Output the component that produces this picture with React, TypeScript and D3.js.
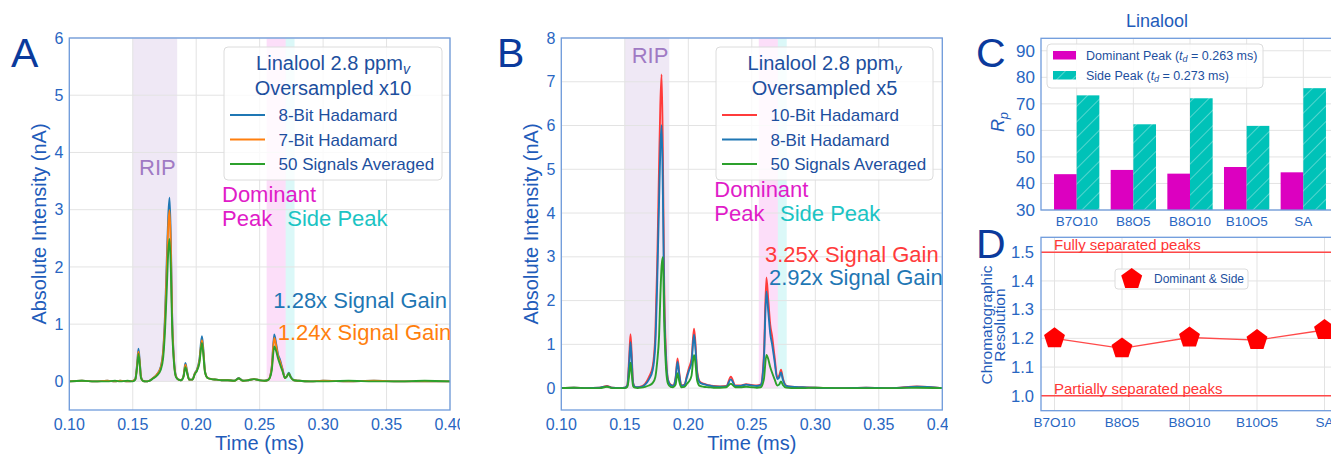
import React from 'react';
import * as d3 from 'd3';

// drift time axis shared by panels A and B (ms)
const TIME = [
  0.100, 0.110, 0.120, 0.130, 0.136, 0.140, 0.146, 0.150, 0.152, 0.1535,
  0.1545, 0.1555, 0.1565, 0.158, 0.160, 0.163, 0.166, 0.169, 0.172, 0.174,
  0.1755, 0.177, 0.178, 0.179, 0.180, 0.181, 0.1825, 0.184, 0.186, 0.188,
  0.190, 0.1915, 0.193, 0.1945, 0.197, 0.199, 0.2005, 0.2025, 0.2045, 0.2055,
  0.207, 0.209, 0.212, 0.216, 0.220, 0.225, 0.230, 0.2335, 0.237, 0.241,
  0.2455, 0.250, 0.254, 0.257, 0.2595, 0.2615, 0.263, 0.2645, 0.266, 0.268,
  0.270, 0.2715, 0.273, 0.2745, 0.277, 0.281, 0.290, 0.300, 0.320, 0.340,
  0.360, 0.380, 0.400,
];

// panel A (oversampled x10)
const A_BIT8 = [
  0.00, 0.01, 0.00, 0.01, 0.00, 0.01, 0.00, 0.01, 0.04, 0.32,
  0.57, 0.36, 0.08, 0.01, 0.00, 0.01, 0.06, 0.12, 0.25, 0.55,
  1.20, 2.25, 2.90, 3.21, 2.50, 1.20, 0.38, 0.10, 0.03, 0.02,
  0.10, 0.32, 0.16, 0.03, 0.03, 0.15, 0.20, 0.38, 0.79, 0.60,
  0.17, 0.06, 0.04, 0.03, 0.02, 0.02, 0.01, 0.06, 0.01, 0.02,
  0.04, 0.02, 0.01, 0.03, 0.25, 0.82, 0.66, 0.47, 0.38, 0.22,
  0.06, 0.09, 0.15, 0.08, 0.02, 0.01, 0.00, 0.01, 0.00, 0.01,
  0.00, 0.00, 0.00,
];
const A_BIT7 = [
  0.00, 0.01, 0.00, 0.01, 0.00, 0.01, 0.00, 0.01, 0.04, 0.29,
  0.52, 0.33, 0.07, 0.01, 0.00, 0.01, 0.06, 0.12, 0.24, 0.52,
  1.10, 2.08, 2.72, 2.99, 2.34, 1.12, 0.36, 0.09, 0.03, 0.02,
  0.09, 0.29, 0.14, 0.03, 0.03, 0.14, 0.19, 0.35, 0.72, 0.55,
  0.16, 0.06, 0.04, 0.03, 0.02, 0.02, 0.01, 0.05, 0.01, 0.02,
  0.04, 0.02, 0.01, 0.03, 0.23, 0.76, 0.62, 0.44, 0.35, 0.20,
  0.06, 0.09, 0.14, 0.07, 0.02, 0.01, 0.00, 0.01, 0.00, 0.01,
  0.00, 0.00, 0.00,
];
const A_AVG = [
  0.00, 0.01, 0.00, 0.00, 0.01, 0.00, 0.01, 0.00, 0.03, 0.26,
  0.48, 0.30, 0.06, 0.01, 0.00, 0.01, 0.05, 0.10, 0.20, 0.42,
  0.92, 1.72, 2.28, 2.49, 1.98, 0.98, 0.32, 0.08, 0.03, 0.02,
  0.08, 0.25, 0.13, 0.03, 0.03, 0.13, 0.18, 0.32, 0.67, 0.50,
  0.15, 0.06, 0.04, 0.03, 0.02, 0.02, 0.01, 0.05, 0.01, 0.02,
  0.04, 0.02, 0.01, 0.03, 0.19, 0.61, 0.53, 0.40, 0.30, 0.18,
  0.06, 0.09, 0.14, 0.07, 0.02, 0.01, 0.00, 0.00, 0.01, 0.00,
  0.00, 0.01, 0.00,
];

// panel B (oversampled x5)
const B_BIT10 = [
  0.00, 0.01, 0.00, 0.01, 0.05, 0.01, 0.00, 0.01, 0.07, 0.72,
  1.23, 0.72, 0.13, 0.03, 0.02, 0.04, 0.10, 0.25, 0.50, 1.20,
  2.80, 5.10, 6.50, 7.17, 5.30, 2.40, 0.75, 0.20, 0.08, 0.06,
  0.24, 0.68, 0.32, 0.06, 0.08, 0.30, 0.46, 0.66, 1.36, 1.08,
  0.38, 0.15, 0.10, 0.07, 0.05, 0.04, 0.05, 0.26, 0.06, 0.06,
  0.09, 0.07, 0.06, 0.08, 0.75, 2.53, 2.00, 1.45, 1.18, 0.70,
  0.25, 0.28, 0.42, 0.22, 0.06, 0.03, 0.02, 0.01, 0.00, 0.01,
  0.00, 0.04, 0.00,
];
const B_BIT8 = [
  0.00, 0.01, 0.00, 0.01, 0.04, 0.01, 0.00, 0.01, 0.06, 0.60,
  1.05, 0.60, 0.11, 0.03, 0.02, 0.03, 0.08, 0.20, 0.42, 1.00,
  2.40, 4.30, 5.50, 6.01, 4.45, 2.00, 0.64, 0.18, 0.07, 0.05,
  0.22, 0.60, 0.28, 0.05, 0.07, 0.26, 0.40, 0.57, 1.22, 0.95,
  0.33, 0.13, 0.09, 0.06, 0.04, 0.03, 0.04, 0.20, 0.05, 0.05,
  0.08, 0.06, 0.05, 0.07, 0.64, 2.21, 1.74, 1.25, 1.00, 0.60,
  0.21, 0.24, 0.36, 0.19, 0.05, 0.03, 0.02, 0.01, 0.00, 0.01,
  0.00, 0.03, 0.00,
];
const B_AVG = [
  0.00, 0.01, 0.00, 0.00, 0.03, 0.00, 0.00, 0.00, 0.03, 0.31,
  0.58, 0.33, 0.05, 0.01, 0.00, 0.01, 0.03, 0.06, 0.12, 0.25,
  0.60, 1.20, 2.10, 2.80, 2.99, 1.55, 0.44, 0.10, 0.03, 0.02,
  0.08, 0.34, 0.14, 0.02, 0.03, 0.10, 0.15, 0.28, 0.76, 0.60,
  0.17, 0.05, 0.03, 0.02, 0.01, 0.01, 0.02, 0.10, 0.02, 0.02,
  0.03, 0.02, 0.01, 0.02, 0.20, 0.76, 0.66, 0.48, 0.35, 0.20,
  0.06, 0.08, 0.15, 0.07, 0.01, 0.00, 0.00, 0.01, 0.00, 0.00,
  0.00, 0.01, 0.00,
];

const X_TICKS = [0.1, 0.15, 0.2, 0.25, 0.3, 0.35, 0.4];

// panels C and D
const METHODS = ['B7O10', 'B8O5', 'B8O10', 'B10O5', 'SA'];
const RP_DOMINANT = [43.5, 45.1, 43.7, 46.2, 44.2];
const RP_SIDE = [73.2, 62.3, 72.1, 61.7, 75.9];
const RP_TICKS = [30, 40, 50, 60, 70, 80, 90];
const RESOLUTION = [1.20, 1.165, 1.203, 1.194, 1.229];
const RES_TICKS = [1.0, 1.1, 1.2, 1.3, 1.4, 1.5];

const FONT = '"Liberation Sans", Arial, sans-serif';
const SPINE = '#6f9bdc';
const GRID = '#e3e3e3';
const TICK_C = '#2866c2';
const LABEL_C = '#1f5cba';
const LEG_C = '#1d4f9e';
const LETTER_C = '#0b3a9c';
const MAGENTA = '#e01cc8';
const CYAN = '#1cc4c4';

type Series = { name: string; color: string; values: number[] };

type ChromProps = {
  id: string;
  clipLeft: number;
  clipRight: number;
  left: number;
  right: number;
  yMax: number;
  letter: string;
  letterX: number;
  ylabelX: number;
  series: Series[];
  legendX: number;
  legendW: number;
  title2: string;
  ripX: number;
  ripY: number;
  domX: number;
  domY: number;
  sideX: number;
  gains: { text: string; color: string; x: number; y: number }[];
};

function ChromPanel(p: ChromProps) {
  const top = 38;
  const bottom = 410;
  const x = d3.scaleLinear().domain([0.1, 0.4]).range([p.left, p.right]);
  const y = d3.scaleLinear().domain([-0.5, p.yMax]).range([bottom, top]);
  const yTicks = d3.range(0, p.yMax + 1);
  const line = d3
    .line<number>()
    .x((_, i) => x(TIME[i]))
    .y((d) => y(d))
    .curve(d3.curveMonotoneX);
  const lx = p.legendX;
  const lcx = lx + p.legendW / 2;
  return (
    <g>
      <defs>
        <clipPath id={p.id + '-panel'}>
          <rect x={p.clipLeft} y={0} width={p.clipRight - p.clipLeft} height={454} />
        </clipPath>
        <clipPath id={p.id + '-axes'}>
          <rect x={p.left} y={top} width={p.right - p.left} height={bottom - top} />
        </clipPath>
      </defs>
      <g clipPath={`url(#${p.id}-panel)`}>
        {/* shaded regions */}
        <rect x={x(0.15)} y={y(p.yMax)} width={x(0.185) - x(0.15)} height={y(0) - y(p.yMax)} fill="rgba(148,103,189,0.15)" />
        <rect x={x(0.2555)} y={y(p.yMax)} width={x(0.2705) - x(0.2555)} height={y(0) - y(p.yMax)} fill="rgba(235,0,210,0.13)" />
        <rect x={x(0.2705)} y={y(p.yMax)} width={x(0.2775) - x(0.2705)} height={y(0) - y(p.yMax)} fill="rgba(0,205,205,0.14)" />
        {/* grid */}
        {X_TICKS.map((t) => (
          <line key={'gx' + t} x1={x(t)} x2={x(t)} y1={top} y2={bottom} stroke={GRID} strokeWidth={1} />
        ))}
        {yTicks.map((t) => (
          <line key={'gy' + t} x1={p.left} x2={p.right} y1={y(t)} y2={y(t)} stroke={GRID} strokeWidth={1} />
        ))}
        {/* traces */}
        <g clipPath={`url(#${p.id}-axes)`}>
          {p.series.map((s) => (
            <path key={s.name} d={line(s.values) || ''} fill="none" stroke={s.color} strokeWidth={1.9} strokeLinejoin="round" />
          ))}
        </g>
        <rect x={p.left} y={top} width={p.right - p.left} height={bottom - top} fill="none" stroke={SPINE} strokeWidth={1.3} />
        {/* tick labels */}
        {yTicks.map((t) => (
          <text key={'ty' + t} x={p.left - 6} y={y(t)} dy="0.35em" textAnchor="end" fontSize={16} fill={TICK_C}>
            {t}
          </text>
        ))}
        {X_TICKS.map((t) => (
          <text key={'tx' + t} x={x(t)} y={430} textAnchor="middle" fontSize={16} fill={TICK_C}>
            {t.toFixed(2)}
          </text>
        ))}
        <text x={(p.left + p.right) / 2} y={450} textAnchor="middle" fontSize={20} fill={LABEL_C}>
          Time (ms)
        </text>
        <text transform={`translate(${p.ylabelX},224) rotate(-90)`} dy="0.35em" textAnchor="middle" fontSize={20} fill={LABEL_C}>
          Absolute Intensity (nA)
        </text>
        {/* annotations */}
        <text x={p.ripX} y={p.ripY} fontSize={22} fill="#a07ac4">RIP</text>
        <text x={p.domX} y={p.domY} fontSize={22} fill={MAGENTA}>Dominant</text>
        <text x={p.domX} y={p.domY + 24} fontSize={22} fill={MAGENTA}>Peak</text>
        <text x={p.sideX} y={p.domY + 24} fontSize={22} fill={CYAN}>Side Peak</text>
        <g clipPath={`url(#${p.id}-axes)`}>
          {p.gains.map((g) => (
            <text key={g.text} x={g.x} y={g.y} fontSize={22} fill={g.color}>{g.text}</text>
          ))}
        </g>
        {/* legend */}
        <rect x={lx} y={47} width={p.legendW} height={133} rx={4} fill="rgba(255,255,255,0.8)" stroke="#dcdcdc" strokeWidth={1} />
        <text x={lcx} y={70} textAnchor="middle" fontSize={20} fill={LEG_C}>
          Linalool 2.8 ppm
          <tspan fontSize={14} fontStyle="italic" dy={4}>v</tspan>
        </text>
        <text x={lcx} y={95} textAnchor="middle" fontSize={20} fill={LEG_C}>{p.title2}</text>
        {p.series.map((s, k) => {
          const ly = 115 + k * 24.5;
          return (
            <g key={'lg' + s.name}>
              <line x1={lx + 6} x2={lx + 41} y1={ly} y2={ly} stroke={s.color} strokeWidth={1.9} />
              <text x={lx + 54.5} y={ly + 6} fontSize={17} fill={LEG_C}>{s.name}</text>
            </g>
          );
        })}
        <text x={p.letterX} y={67} fontSize={41} fill={LETTER_C}>{p.letter}</text>
      </g>
    </g>
  );
}

function pentagon(cx: number, cy: number, r: number) {
  const pts: [number, number][] = d3.range(5).map((k) => {
    const a = -Math.PI / 2 + (k * 2 * Math.PI) / 5;
    return [cx + r * Math.cos(a), cy + r * Math.sin(a)];
  });
  return d3.line().curve(d3.curveLinearClosed)(pts) || '';
}

function RpPanel() {
  const left = 1041;
  const top = 38.3;
  const bottom = 210;
  const x = d3.scaleLinear().domain([-0.63, 4.63]).range([left, 1339]);
  const y = d3.scaleLinear().domain([30, 94.7]).range([bottom, top]);
  const bw = x(0.4) - x(0);
  return (
    <g>
      <defs>
        <pattern id="hatch" patternUnits="userSpaceOnUse" width={11} height={11} patternTransform="rotate(45)">
          <rect width={11} height={11} fill="#00c2b8" />
          <line x1={0} y1={0} x2={0} y2={11} stroke="rgba(255,255,255,0.55)" strokeWidth={1.2} />
        </pattern>
      </defs>
      {RP_TICKS.map((t) => (
        <line key={'cg' + t} x1={left} x2={1340} y1={y(t)} y2={y(t)} stroke={GRID} />
      ))}
      {METHODS.map((m, i) => (
        <line key={'cgx' + m} x1={x(i)} x2={x(i)} y1={top} y2={bottom} stroke={GRID} />
      ))}
      {METHODS.map((m, i) => (
        <g key={'bar' + m}>
          <rect x={x(i) - bw} y={y(RP_DOMINANT[i])} width={bw} height={y(30) - y(RP_DOMINANT[i])} fill="#dc00c0" />
          <rect x={x(i)} y={y(RP_SIDE[i])} width={bw} height={y(30) - y(RP_SIDE[i])} fill="url(#hatch)" />
        </g>
      ))}
      <rect x={left} y={top} width={340} height={bottom - top} fill="none" stroke={SPINE} strokeWidth={1.3} />
      {RP_TICKS.map((t) => (
        <text key={'ct' + t} x={1035} y={y(t)} dy="0.35em" textAnchor="end" fontSize={17} fill={TICK_C}>{t}</text>
      ))}
      {METHODS.map((m, i) => (
        <text key={'cx' + m} x={x(i)} y={226} textAnchor="middle" fontSize={13.5} fill={TICK_C}>{m}</text>
      ))}
      <text x={1157} y={27} textAnchor="middle" fontSize={18} fill={LABEL_C}>Linalool</text>
      <text transform="translate(998,122) rotate(-90)" dy="0.35em" textAnchor="middle" fontSize={18} fill={LABEL_C} fontStyle="italic">
        R<tspan fontSize={13} dy={4}>p</tspan>
      </text>
      {/* legend */}
      <rect x={1047} y={44} width={216} height={44} rx={4} fill="rgba(255,255,255,0.85)" stroke="#dcdcdc" />
      <rect x={1053} y={51} width={23} height={8.5} fill="#dc00c0" />
      <rect x={1053} y={71} width={23} height={8.5} fill="url(#hatch)" />
      <text x={1086} y={59.5} fontSize={12.5} fill={LEG_C}>
        Dominant Peak (<tspan fontStyle="italic">t</tspan><tspan fontStyle="italic" fontSize={9} dy={2}>d</tspan><tspan dy={-2}> = 0.263 ms)</tspan>
      </text>
      <text x={1086} y={79.5} fontSize={12.5} fill={LEG_C}>
        Side Peak (<tspan fontStyle="italic">t</tspan><tspan fontStyle="italic" fontSize={9} dy={2}>d</tspan><tspan dy={-2}> = 0.273 ms)</tspan>
      </text>
      <text x={976} y={67} fontSize={41} fill={LETTER_C}>C</text>
    </g>
  );
}

function ResolutionPanel() {
  const left = 1041;
  const top = 237.3;
  const bottom = 410.7;
  const x = d3.scaleLinear().domain([-0.2, 4.2]).range([left, 1338]);
  const y = d3.scaleLinear().domain([0.948, 1.552]).range([bottom, top]);
  const line = d3
    .line<number>()
    .x((_, i) => x(i))
    .y((d) => y(d));
  return (
    <g>
      {RES_TICKS.map((t) => (
        <line key={'dg' + t} x1={left} x2={1340} y1={y(t)} y2={y(t)} stroke={GRID} />
      ))}
      {METHODS.map((m, i) => (
        <line key={'dgx' + m} x1={x(i)} x2={x(i)} y1={top} y2={bottom} stroke={GRID} />
      ))}
      <line x1={left} x2={1340} y1={y(1.5)} y2={y(1.5)} stroke="#ff4848" strokeWidth={1.6} />
      <line x1={left} x2={1340} y1={y(1.0)} y2={y(1.0)} stroke="#ff4848" strokeWidth={1.6} />
      <text x={1054} y={y(1.5) - 2.5} fontSize={15} fill="#ff3535">Fully separated peaks</text>
      <text x={1054} y={y(1.0) - 2} fontSize={15} fill="#ff3535">Partially separated peaks</text>
      <path d={line(RESOLUTION) || ''} fill="none" stroke="#ff4a4a" strokeWidth={1.4} />
      {RESOLUTION.map((v, i) => (
        <path key={'pt' + i} d={pentagon(x(i), y(v), 11)} fill="#ff0000" />
      ))}
      <rect x={left} y={top} width={340} height={bottom - top} fill="none" stroke={SPINE} strokeWidth={1.3} />
      {RES_TICKS.map((t) => (
        <text key={'dt' + t} x={1034} y={y(t)} dy="0.35em" textAnchor="end" fontSize={16.5} fill={TICK_C}>{t.toFixed(1)}</text>
      ))}
      {METHODS.map((m, i) => (
        <text key={'dx' + m} x={x(i)} y={427} textAnchor="middle" fontSize={13.5} fill={TICK_C}>{m}</text>
      ))}
      <text transform="translate(987,325) rotate(-90)" dy="0.35em" textAnchor="middle" fontSize={15.5} fill={LABEL_C}>Chromatographic</text>
      <text transform="translate(999.5,325) rotate(-90)" dy="0.35em" textAnchor="middle" fontSize={15.5} fill={LABEL_C}>Resolution</text>
      {/* legend */}
      <rect x={1115} y={269} width={133} height={20} rx={3} fill="rgba(255,255,255,0.85)" stroke="#dcdcdc" />
      <path d={pentagon(1131.7, 279, 11)} fill="#ff0000" />
      <text x={1154} y={283} fontSize={12} fill={LEG_C}>Dominant &amp; Side</text>
      <text x={976} y={258} fontSize={41} fill={LETTER_C}>D</text>
    </g>
  );
}

export default function App() {
  const seriesA: Series[] = [
    { name: '8-Bit Hadamard', color: '#1f77b4', values: A_BIT8 },
    { name: '7-Bit Hadamard', color: '#ff7f0e', values: A_BIT7 },
    { name: '50 Signals Averaged', color: '#2ca02c', values: A_AVG },
  ];
  const seriesB: Series[] = [
    { name: '10-Bit Hadamard', color: '#ff3b3b', values: B_BIT10 },
    { name: '8-Bit Hadamard', color: '#1f77b4', values: B_BIT8 },
    { name: '50 Signals Averaged', color: '#2ca02c', values: B_AVG },
  ];
  return (
    <svg
      width={1331}
      height={454}
      style={{ position: 'absolute', left: 0, top: 0, background: '#fff' }}
      fontFamily={FONT}
    >
      <ChromPanel
        id="pa"
        clipLeft={0}
        clipRight={460}
        left={69.3}
        right={450}
        yMax={6}
        letter="A"
        letterX={11}
        ylabelX={39}
        series={seriesA}
        legendX={224}
        legendW={218}
        title2="Oversampled x10"
        ripX={139}
        ripY={175}
        domX={222}
        domY={201.7}
        sideX={287.3}
        gains={[
          { text: '1.28x Signal Gain', color: '#1f77b4', x: 273.3, y: 308 },
          { text: '1.24x Signal Gain', color: '#ff7f0e', x: 277.7, y: 340 },
        ]}
      />
      <ChromPanel
        id="pb"
        clipLeft={470}
        clipRight={948}
        left={561.3}
        right={942.3}
        yMax={8}
        letter="B"
        letterX={497}
        ylabelX={531}
        series={seriesB}
        legendX={716}
        legendW={217}
        title2="Oversampled x5"
        ripX={631.7}
        ripY={62.7}
        domX={714.3}
        domY={196.7}
        sideX={780}
        gains={[
          { text: '3.25x Signal Gain', color: '#ff3b3b', x: 765, y: 261.7 },
          { text: '2.92x Signal Gain', color: '#1f77b4', x: 769, y: 285 },
        ]}
      />
      <RpPanel />
      <ResolutionPanel />
    </svg>
  );
}
